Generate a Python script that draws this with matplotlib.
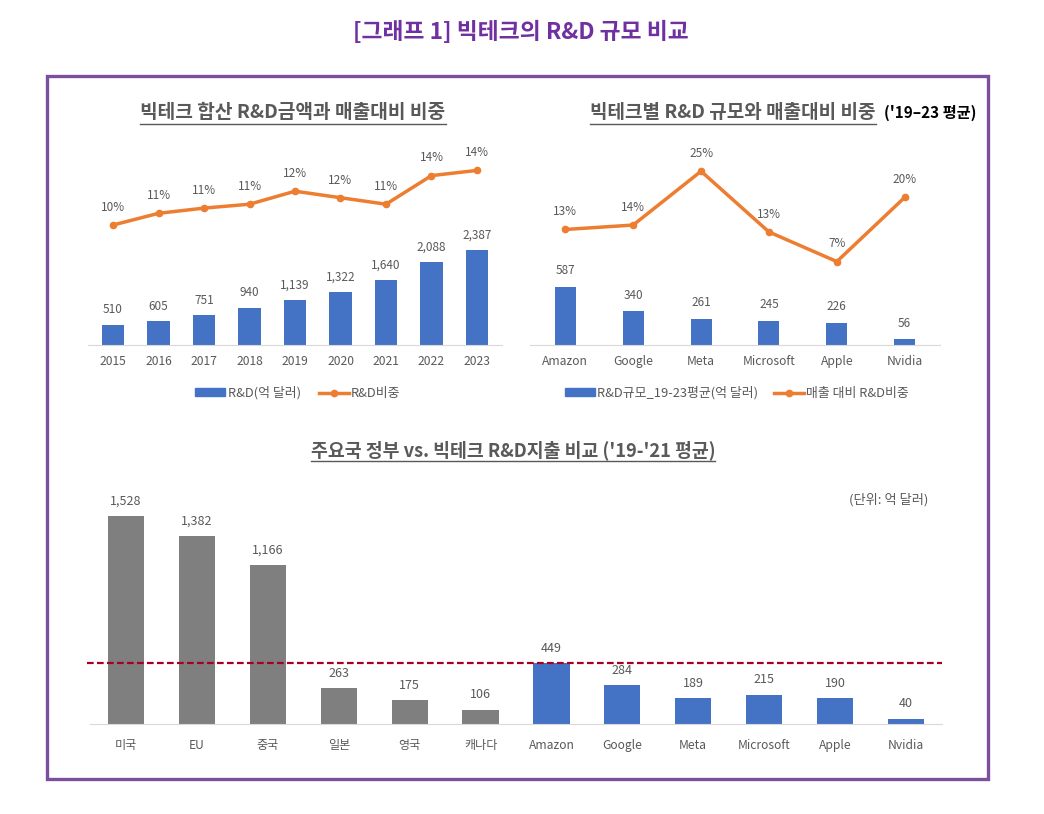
import numpy as np
import matplotlib
matplotlib.use('Agg')
import matplotlib.pyplot as plt
from matplotlib.patches import Rectangle
from matplotlib.lines import Line2D

plt.rcParams['font.family'] = ['Noto Sans CJK KR', 'DejaVu Sans']

BLUE = '#4472C4'
ORANGE = '#ED7D31'
GREY_BAR = '#7F7F7F'
TXT = '#595959'
PURPLE = '#7030A0'
FRAME = '#7B4F9D'

# --- data ---
years = ['2015', '2016', '2017', '2018', '2019', '2020', '2021', '2022', '2023']
rd_total = [510, 605, 751, 940, 1139, 1322, 1640, 2088, 2387]
rd_ratio = [9.8, 10.7, 11.1, 11.4, 12.4, 11.9, 11.4, 13.6, 14.0]

companies = ['Amazon', 'Google', 'Meta', 'Microsoft', 'Apple', 'Nvidia']
rd_avg = [587, 340, 261, 245, 226, 56]
rd_avg_ratio = [13.4, 14.3, 25.2, 12.9, 6.9, 19.9]

gov_names = ['미국', 'EU', '중국', '일본', '영국', '캐나다']
gov_rd = [1528, 1382, 1166, 263, 175, 106]
tech_rd_19_21 = [449, 284, 189, 215, 190, 40]

W, H = 1044, 814
fig = plt.figure(figsize=(W / 100, H / 100), dpi=100)


def ax_at(x0, y0, x1, y1):
    # pixel box (top-left origin) -> axes
    return fig.add_axes([x0 / W, 1 - y1 / H, (x1 - x0) / W, (y1 - y0) / H])


def clean(ax):
    for s in ['top', 'right', 'left']:
        ax.spines[s].set_visible(False)
    ax.spines['bottom'].set_color('#D9D9D9')
    ax.set_yticks([])
    ax.tick_params(axis='x', length=0, colors=TXT, labelsize=8.7, pad=7)


def underline_title(x, y, parts):
    # parts: (text, color, size, underline) drawn left to right from x (pixels)
    renderer = fig.canvas.get_renderer()
    cur = x
    for txt, col, size, ul in parts:
        t = fig.text(cur / W, 1 - y / H, txt, color=col, fontsize=size,
                     fontweight='bold', ha='left', va='center')
        bb = t.get_window_extent(renderer)
        if ul:
            fig.add_artist(Line2D([bb.x0 / W, bb.x1 / W], [(bb.y0 - 1) / H] * 2,
                                  color=col, lw=1.0))
        cur = bb.x1 + 8


def centered_width(parts):
    renderer = fig.canvas.get_renderer()
    total = 0
    for txt, col, size, ul in parts:
        t = fig.text(0, 0, txt, fontsize=size, fontweight='bold')
        total += t.get_window_extent(renderer).width + 8
        t.remove()
    return total - 8


# frame + main title
fig.add_artist(Rectangle((47 / W, 1 - 779 / H), (988 - 47) / W, (779 - 76) / H,
                         fill=False, edgecolor=FRAME, lw=2.4, transform=fig.transFigure))
fig.text(521 / W, 1 - 32 / H, '[그래프 1] 빅테크의 R&D 규모 비교', color=PURPLE,
         fontsize=16.4, fontweight='bold', ha='center', va='center')

# --- top-left: total R&D and ratio ---
ax1 = ax_at(88, 150, 502, 345)
x1 = np.arange(len(years))
ax1.bar(x1, rd_total, width=0.5, color=BLUE)
ax1.set_ylim(0, 4900)
ax1.set_xlim(-0.55, len(years) - 0.45)
ax1.set_xticks(x1)
ax1.set_xticklabels(years)
clean(ax1)
for xi, v in zip(x1, rd_total):
    ax1.annotate(f'{v:,}', (xi, v), xytext=(0, 6), textcoords='offset points',
                 ha='center', va='bottom', fontsize=8.5, color=TXT)
ax1b = ax1.twinx()
ax1b.plot(x1, rd_ratio, color=ORANGE, lw=2.5, marker='o', ms=4.5)
ax1b.set_ylim(0.57, 15.57)
ax1b.axis('off')
for xi, v in zip(x1, rd_ratio):
    ax1b.annotate(f'{v:.0f}%', (xi, v), xytext=(0, 8), textcoords='offset points',
                  ha='center', va='bottom', fontsize=8.5, color=TXT)
h1 = [Rectangle((0, 0), 1, 1, color=BLUE),
      Line2D([], [], color=ORANGE, lw=2.5, marker='o', ms=4.5)]
fig.legend(h1, ['R&D(억 달러)', 'R&D비중'], loc='center', bbox_to_anchor=(298 / W, 1 - 393 / H),
           ncol=2, frameon=False, fontsize=9.3, labelcolor=TXT, handlelength=2.3,
           handleheight=0.55, columnspacing=1.4, handletextpad=0.2)

# --- top-right: per-company average ---
ax2 = ax_at(530, 150, 940, 345)
x2 = np.arange(len(companies))
ax2.bar(x2, rd_avg, width=0.31, color=BLUE)
ax2.set_ylim(0, 1974)
ax2.set_xlim(-0.52, len(companies) - 0.48)
ax2.set_xticks(x2)
ax2.set_xticklabels(companies)
clean(ax2)
for xi, v in zip(x2, rd_avg):
    ax2.annotate(f'{v:,}', (xi, v), xytext=(0, 7), textcoords='offset points',
                 ha='center', va='bottom', fontsize=8.5, color=TXT)
ax2b = ax2.twinx()
ax2b.plot(x2, rd_avg_ratio, color=ORANGE, lw=2.5, marker='o', ms=4.5)
ax2b.set_ylim(-10, 29.5)
ax2b.axis('off')
for xi, v in zip(x2, rd_avg_ratio):
    ax2b.annotate(f'{v:.0f}%', (xi, v), xytext=(0, 8), textcoords='offset points',
                  ha='center', va='bottom', fontsize=8.5, color=TXT)
fig.legend(h1, ['R&D규모_19-23평균(억 달러)', '매출 대비 R&D비중'], loc='center',
           bbox_to_anchor=(737 / W, 1 - 393 / H), ncol=2, frameon=False, fontsize=9.3,
           labelcolor=TXT, handlelength=2.3, handleheight=0.55, columnspacing=1.2,
           handletextpad=0.2)

# --- bottom: governments vs big tech ---
ax3 = ax_at(90, 480, 942, 724)
names3 = gov_names + companies
vals3 = gov_rd + tech_rd_19_21
cols3 = [GREY_BAR] * len(gov_rd) + [BLUE] * len(tech_rd_19_21)
x3 = np.arange(len(names3))
ax3.bar(x3, vals3, width=0.51, color=cols3)
ax3.set_ylim(0, 1793)
ax3.set_xlim(-0.51, len(names3) - 0.49)
ax3.set_xticks(x3)
ax3.set_xticklabels(names3)
clean(ax3)
ax3.tick_params(axis='x', pad=11)
for xi, v in zip(x3, vals3):
    ax3.annotate(f'{v:,}', (xi, v), xytext=(0, 6), textcoords='offset points',
                 ha='center', va='bottom', fontsize=9, color=TXT)
ax3.axhline(tech_rd_19_21[0], color='#A50021', lw=1.6, ls=(0, (3, 1.5)), xmin=-0.003, xmax=1.0,
            clip_on=False)
fig.text(928 / W, 1 - 500 / H, '(단위: 억 달러)', fontsize=9.5, color=TXT, ha='right', va='center')

# titles (need renderer for widths)
fig.canvas.draw()
p1 = [('빅테크 합산 R&D금액과 매출대비 비중', TXT, 13.8, True)]
underline_title(293 - centered_width(p1) / 2, 113, p1)
p2 = [('빅테크별 R&D 규모와 매출대비 비중', TXT, 13.7, True),
      ("('19–23 평균)", 'black', 11, False)]
underline_title(590, 113, p2)
p3 = [("주요국 정부 vs. 빅테크 R&D지출 비교 ('19-'21 평균)", TXT, 13.2, True)]
underline_title(513 - centered_width(p3) / 2, 450, p3)

fig.savefig('out.png', dpi=100)
